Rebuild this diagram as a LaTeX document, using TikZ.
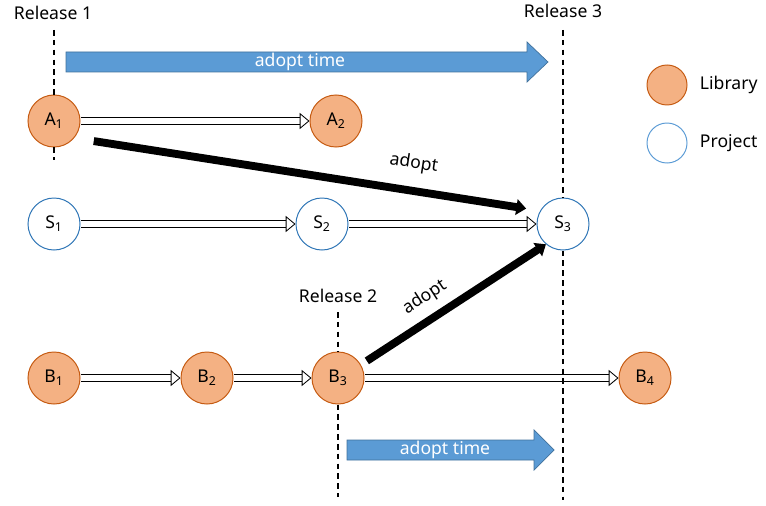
\documentclass[tikz,border=0pt]{standalone}
\usepackage{fontspec}
\setmainfont{Noto Sans}
\usepackage{tikz}
\usetikzlibrary{arrows.meta}
\definecolor{libfill}{HTML}{F4B183}
\definecolor{libdraw}{HTML}{C55A11}
\definecolor{projdraw}{HTML}{2E75B6}
\definecolor{legdraw}{HTML}{5B9BD5}
\definecolor{timefill}{HTML}{5B9BD5}
\definecolor{timedraw}{HTML}{41719C}

\begin{document}
\begin{tikzpicture}[x=0.025cm,y=-0.025cm,>=latex,font=\fontsize{12.5}{15}\selectfont]
	\tikzstyle{ver}=[circle,minimum size=1.3cm,inner sep=0pt,line width=0.7pt]
	\tikzstyle{lib}=[ver,draw=libdraw,fill=libfill]
	\tikzstyle{proj}=[ver,draw=projdraw,fill=white]
	\tikzstyle{upd}=[draw=black,line width=0.6pt,double=white,double distance=4.5pt,-{Triangle[open,fill=white,length=7pt,width=11.5pt]}]
	\tikzstyle{adopt}=[draw=black,line width=5.6pt,-{Triangle[length=7pt,width=11pt]}]
	\tikzstyle{release}=[draw=black,line width=1.3pt,dash pattern=on 4pt off 3pt]
	\tikzstyle{timebar}=[fill=timefill,draw=timedraw,line width=0.5pt]
	\tikzstyle{timetext}=[text=white]
	\useasboundingbox (0,0) rectangle (766,505);
	% releases
	\node(rel-1) at (53,13){Release 1};
	\node(rel-2) at (338,296){Release 2};
	\node(rel-3) at (563,11){Release 3};
	\coordinate(r1-top) at (54,30);
	\coordinate(r1-bot) at (54,160);
	\coordinate(r2-top) at (338,312);
	\coordinate(r2-bot) at (338,497);
	\coordinate(r3-top) at (563,30);
	\coordinate(r3-bot) at (563,500);
	% adopt time
	\draw[timebar] (66,52) -- (527,52) -- (527,42) -- (548,62) -- (527,82) -- (527,72) -- (66,72) -- cycle;
	\node[timetext](time-1) at (300,62){adopt time};
	\draw[timebar] (347,440) -- (534,440) -- (534,430) -- (554,450) -- (534,470) -- (534,460) -- (347,460) -- cycle;
	\node[timetext](time-2) at (445,450){adopt time};
	% versions
	\node[lib](A-1) at (54,121){A\textsubscript{1}};
	\node[lib](A-2) at (336,121){A\textsubscript{2}};
	\node[proj](S-1) at (54,224){S\textsubscript{1}};
	\node[proj](S-2) at (322,224){S\textsubscript{2}};
	\node[proj](S-3) at (563,224){S\textsubscript{3}};
	\node[lib](B-1) at (54,378){B\textsubscript{1}};
	\node[lib](B-2) at (207,378){B\textsubscript{2}};
	\node[lib](B-3) at (338,378){B\textsubscript{3}};
	\node[lib](B-4) at (645,378){B\textsubscript{4}};
	\foreach \a/\b in {A-1/A-2,S-1/S-2,S-2/S-3,B-1/B-2,B-2/B-3,B-3/B-4}{
	\draw[upd] (\a) -- (\b);
	}
	\draw[release] (r1-top) -- (A-1.north);
	\draw[release] (A-1.south) -- (r1-bot);
	\draw[release] (r2-top) -- (B-3.north);
	\draw[release] (B-3.south) -- (r2-bot);
	\draw[release] (r3-top) -- (S-3.north);
	\draw[release] (S-3.south) -- (r3-bot);
	\draw[adopt,shorten <=14pt,shorten >=10pt] (A-1.-40) -- node[pos=0.72,above=7pt,sloped](lab-1){adopt} (S-3.150);
	\draw[adopt,shorten <=5pt] (B-3.30) -- node[pos=0.41,above=3pt,sloped](lab-2){adopt} (S-3.230);
	% legend
	\node[lib,minimum size=1cm](leg-lib) at (667,85){};
	\node[ver,minimum size=1cm,draw=legdraw](leg-proj) at (667,143){};
	\node[anchor=west](leg-lib-txt) at (695,85){Library};
	\node[anchor=west](leg-proj-txt) at (695,143){Project};
\end{tikzpicture}
\end{document}
